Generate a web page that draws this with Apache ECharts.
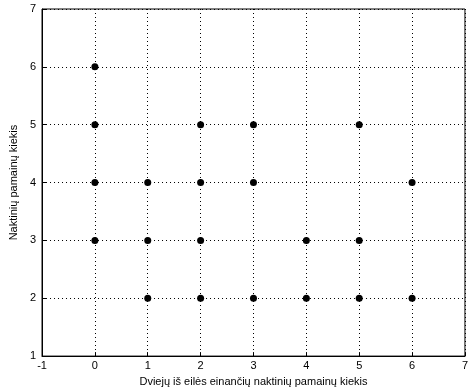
<!DOCTYPE html>
<html><head><meta charset="utf-8">
<script src="https://cdn.jsdelivr.net/npm/echarts@6/dist/echarts.min.js"></script>
<style>html,body{margin:0;padding:0;background:#fff}#c{width:471px;height:392px}</style>
</head><body><div id="c"></div>
<script>
const xValues = [0,0,0,0, 1,1,1, 2,2,2,2, 3,3,3, 4,4, 5,5,5, 6,6];
const yValues = [6,5,4,3, 4,3,2, 5,4,3,2, 5,4,2, 3,2, 5,3,2, 4,2];
const xLabel = 'Dviejų iš eilės einančių naktinių pamainų kiekis';
const yLabel = 'Naktinių pamainų kiekis';
const pts = xValues.map((x,i)=>[x,yValues[i]]);
const chart = echarts.init(document.getElementById('c'));
const font = 'Liberation Sans, Arial, sans-serif';
chart.setOption({
  animation:false,
  grid:{left:42,top:9,right:1,bottom:35,show:true,borderColor:'#000',borderWidth:1},
  xAxis:{type:'value',min:-1,max:7,interval:1,
    name:xLabel,nameLocation:'middle',nameGap:19,
    nameTextStyle:{fontFamily:font,fontSize:11,color:'#000'},
    axisLine:{onZero:false,lineStyle:{color:'#000'}},
    axisTick:{inside:true,length:4,lineStyle:{color:'#000'}},
    axisLabel:{fontFamily:font,fontSize:11,color:'#000',margin:4},
    splitLine:{lineStyle:{color:'#000',type:[1,3],width:1}}},
  yAxis:{type:'value',min:1,max:7,interval:1,
    name:yLabel,nameLocation:'middle',nameGap:22,
    nameTextStyle:{fontFamily:font,fontSize:11,color:'#000'},
    axisLine:{show:true,onZero:false,lineStyle:{color:'#000'}},
    axisTick:{show:true,inside:true,length:4,lineStyle:{color:'#000'}},
    axisLabel:{fontFamily:font,fontSize:11,color:'#000',margin:6},
    splitLine:{lineStyle:{color:'#000',type:[1,3],width:1}}},
  series:[{type:'scatter',data:pts,symbol:'circle',symbolSize:7,itemStyle:{color:'#000',opacity:1}}]
});
</script></body></html>
